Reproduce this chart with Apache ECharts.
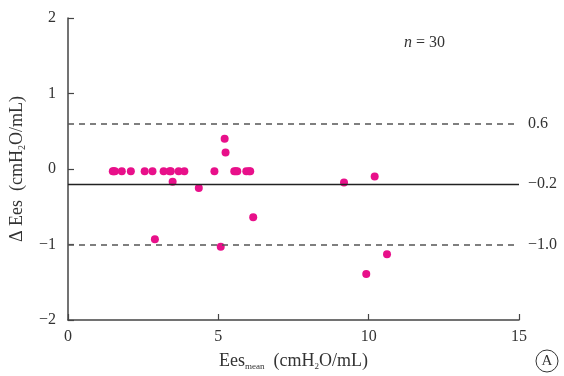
<!DOCTYPE html>
<html><head><meta charset="utf-8">
<script src="https://cdn.jsdelivr.net/npm/echarts@6/dist/echarts.min.js"></script>
<style>html,body{margin:0;padding:0;background:#fff}#c{width:564px;height:376px}</style>
</head><body><div id="c"></div>
<script>
var xTicks = [0, 5, 10, 15];
var yTicks = [-2, -1, 0, 1, 2];
var eesMean = [1.49,1.52,1.56,1.79,2.09,2.55,2.81,3.18,3.38,3.42,3.68,3.87,4.87,5.53,5.58,5.63,5.93,6.06,6.02,
  3.48,4.35,5.21,5.24,2.89,5.08,6.16,9.18,10.2,10.61,9.92];
var deltaEes = [-0.03,-0.03,-0.03,-0.03,-0.03,-0.03,-0.03,-0.03,-0.03,-0.03,-0.03,-0.03,-0.03,-0.03,-0.03,-0.03,-0.03,-0.03,-0.03,
  -0.17,-0.25,0.40,0.22,-0.93,-1.03,-0.64,-0.18,-0.10,-1.13,-1.39];
var refLines = [0.6, -0.2, -1.0];
var refLabels = ['0.6', '\u22120.2', '\u22121.0'];
var nLabel = '30';

var pts = eesMean.map(function(v,i){return [v, deltaEes[i]];});
var font = 'Liberation Serif';
var txt = '#333';
var chart = echarts.init(document.getElementById('c'));
chart.setOption({
  animation:false,
  grid:{left:66,right:45,top:18,bottom:56},
  xAxis:{type:'value',min:0,max:15,interval:5,
    name:'Ees{sub|mean}  (cmH{sub|2}O/mL)',nameLocation:'middle',nameGap:32,
    nameTextStyle:{fontFamily:font,fontSize:18,color:txt,rich:{sub:{fontFamily:font,fontSize:9,color:txt,padding:[10,0,0,0]}}},
    axisLine:{onZero:false,lineStyle:{color:'#444',width:1.5}},
    axisTick:{inside:true,length:6,lineStyle:{color:'#444',width:1.2}},
    axisLabel:{fontFamily:font,fontSize:16,color:txt,margin:9},
    splitLine:{show:false}},
  yAxis:{type:'value',min:-2,max:2,interval:1,
    name:'\u0394 Ees  (cmH{sub|2}O/mL)',nameLocation:'middle',nameGap:41,
    nameTextStyle:{fontFamily:font,fontSize:18,color:txt,rich:{sub:{fontFamily:font,fontSize:10,color:txt,padding:[10,0,0,0]}}},
    axisLine:{onZero:false,lineStyle:{color:'#444',width:1.5}},
    axisTick:{inside:true,length:6,lineStyle:{color:'#444',width:1.2}},
    axisLabel:{fontFamily:font,fontSize:16,color:txt,margin:12,formatter:function(v){return String(v).replace('-','\u2212');}},
    splitLine:{show:false}},
  series:[{type:'scatter',data:pts,symbolSize:8,itemStyle:{color:'#e8108a',opacity:1},
    markLine:{silent:true,symbol:['none','none'],
      data:refLines.map(function(v,i){return {yAxis:v,
        lineStyle:{type:i===1?'solid':[6,5],color:i===1?'#222':'#555',width:i===1?1.4:1.6},
        label:{show:true,position:'end',formatter:refLabels[i],fontFamily:font,fontSize:16,color:txt,distance:9}};})}}],
  graphic:[
    {type:'text',left:404,top:35,style:{text:'{i|n} = '+nLabel,fontFamily:font,fontSize:16,fill:txt,
      rich:{i:{fontFamily:font,fontStyle:'italic',fontSize:16,fill:txt}}}},
    {type:'circle',shape:{cx:547,cy:361,r:11},style:{fill:'none',stroke:'#333',lineWidth:1}},
    {type:'text',x:547,y:361,style:{text:'A',fontFamily:font,fontSize:15,fill:txt,align:'center',verticalAlign:'middle'}}
  ]
});
</script></body></html>
